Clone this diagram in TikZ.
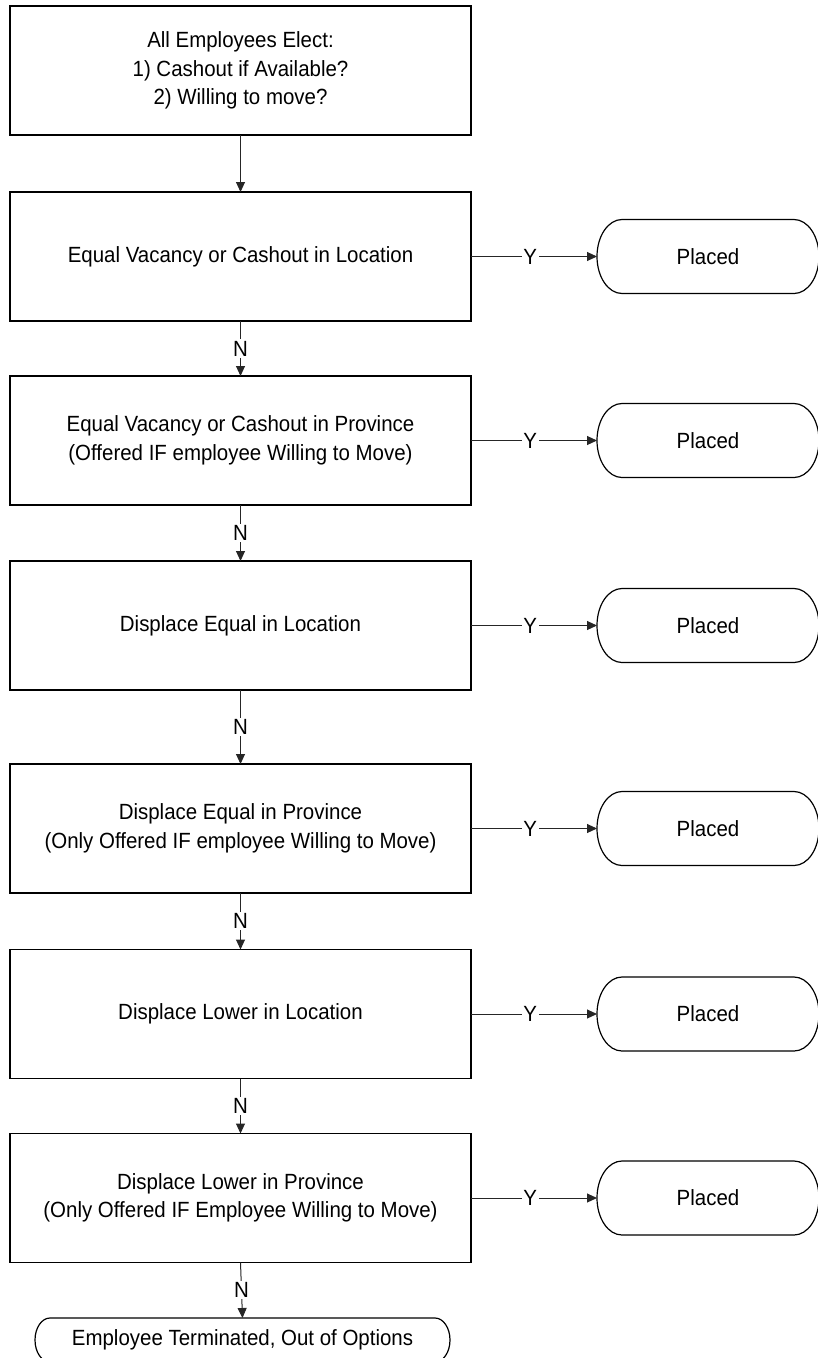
\documentclass[tikz,border=0pt]{standalone}
\usepackage{fontspec}
\setmainfont[FakeStretch=0.93]{Liberation Sans}
\usetikzlibrary{arrows.meta}
\begin{document}
\begin{tikzpicture}[x=1pt,y=1pt,
  txt/.style={font=\fontsize{22}{28.5}\selectfont},
  procbox/.style={txt, draw, line width=1.5pt, minimum width=461pt, minimum height=129pt,
    align=center, inner sep=0pt, outer sep=0pt},
  termnode/.style={txt, minimum width=222pt, minimum height=74pt, inner sep=0pt, outer sep=0pt},
  endnode/.style={txt, minimum width=415pt, minimum height=44pt, inner sep=0pt, outer sep=0pt},
  termline/.style={line width=1.2pt},
  conn/.style={line width=1pt, draw=black!85, -{Triangle[length=10pt,width=9pt]}},
  lbl/.style={txt, fill=white, inner sep=1.5pt}
]
\useasboundingbox (0,0) rectangle (817,-1358);

\node[procbox] (b1) at (240.5,-70.5) {All Employees Elect:\\1) Cashout if Available?\\2) Willing to move?};
\node[procbox] (b2) at (240.5,-256.5) {Equal Vacancy or Cashout in Location};
\node[procbox] (b3) at (240.5,-440.5) {Equal Vacancy or Cashout in Province\\(Offered IF employee Willing to Move)};
\node[procbox] (b4) at (240.5,-625.5) {Displace Equal in Location};
\node[procbox] (b5) at (240.5,-828.5) {Displace Equal in Province\\(Only Offered IF employee Willing to Move)};
\node[procbox] (b6) at (240.5,-1014) {Displace Lower in Location};
\node[procbox] (b7) at (240.5,-1198) {Displace Lower in Province\\(Only Offered IF Employee Willing to Move)};

\node[termnode] (p2) at (708,-256.5) {Placed};
\node[termnode] (p3) at (708,-440.5) {Placed};
\node[termnode] (p4) at (708,-625.5) {Placed};
\node[termnode] (p5) at (708,-828.5) {Placed};
\node[termnode] (p6) at (708,-1014) {Placed};
\node[termnode] (p7) at (708,-1198) {Placed};

\node[endnode] (t) at (242.5,-1340) {Employee Terminated, Out of Options};

\foreach \n in {p2,p3,p4,p5,p6,p7}{
  \draw[termline] ([xshift=25pt]\n.north west) -- ([xshift=-25pt]\n.north east)
    arc[start angle=90, end angle=-90, x radius=25pt, y radius=37pt]
    -- ([xshift=25pt]\n.south west)
    arc[start angle=270, end angle=90, x radius=25pt, y radius=37pt] -- cycle;
}
\draw[termline] ([xshift=15pt]t.north west) -- ([xshift=-15pt]t.north east)
    arc[start angle=90, end angle=-90, x radius=15pt, y radius=22pt]
    -- ([xshift=15pt]t.south west)
    arc[start angle=270, end angle=90, x radius=15pt, y radius=22pt] -- cycle;

\draw[conn] (b1.south) -- (b2.north);
\foreach \a/\b in {b2/b3,b3/b4,b4/b5,b5/b6,b6/b7,b7/t}{
  \draw[conn] (\a.south) -- node[lbl, pos=0.5] {N} (\b.north);
}
\foreach \k in {2,...,7}{
  \draw[conn] (b\k.east) -- node[lbl, pos=0.47] {Y} (p\k.west);
}
\end{tikzpicture}
\end{document}
